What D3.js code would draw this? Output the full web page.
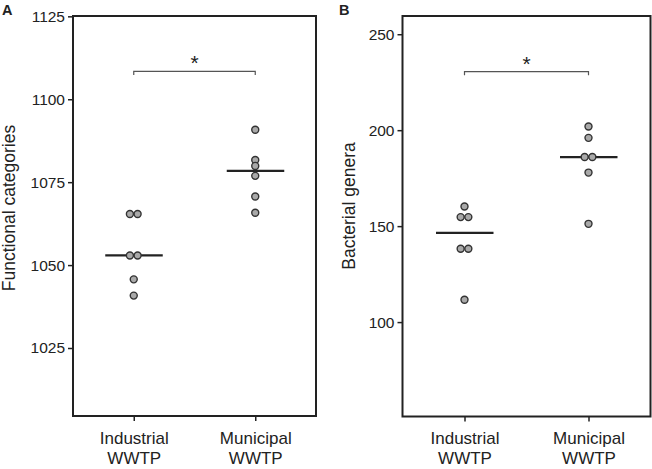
<!DOCTYPE html>
<html><head><meta charset="utf-8">
<script src="https://cdn.jsdelivr.net/npm/d3@7"></script>
<style>body{margin:0;background:#fff}svg{display:block}text{font-family:"Liberation Sans",Arial,sans-serif}</style>
</head><body>
<svg id="c" width="652" height="469"></svg>
<script>
const categories = ["Industrial WWTP", "Municipal WWTP"];
// Panel A: functional categories
const aIndustrial = [1065.4, 1065.4, 1052.9, 1052.9, 1045.7, 1040.8];
const aMunicipal = [1090.8, 1081.7, 1079.9, 1076.9, 1070.7, 1065.8];
const aTicks = [1025, 1050, 1075, 1100, 1125];
// Panel B: bacterial genera
const bIndustrial = [160.2, 154.7, 154.7, 138.2, 138.2, 111.6];
const bMunicipal = [201.9, 196.0, 186.0, 186.0, 177.9, 151.2];
const bTicks = [100, 150, 200, 250];

const svg = d3.select("#c");
const ink = "#222";
const FF = '"Liberation Sans",Arial,sans-serif';

function panel(opts){
  const {left, right, top, bottom, domain, ticks, ylabel, ylabelX, ylabelY, letter, letterX, series, bracketY} = opts;
  const g = svg.append("g");
  const y = d3.scaleLinear().domain(domain).range([bottom, top]);
  const x = d3.scalePoint().domain(categories).range([left, right]).padding(0.5);
  // y axis
  const ya = g.append("g").attr("transform", `translate(${left},0)`)
    .call(d3.axisLeft(y).tickValues(ticks).tickSize(5).tickPadding(3).tickFormat(d3.format("d")));
  ya.select(".domain").remove();
  ya.selectAll("line").attr("stroke", ink).attr("stroke-width", 1.5);
  ya.selectAll("text").attr("font-size", 15.5).attr("fill", ink).style("font-family", FF);
  // x axis
  const xa = g.append("g").attr("transform", `translate(0,${bottom})`)
    .call(d3.axisBottom(x).tickSize(5).tickFormat(""));
  xa.select(".domain").remove();
  xa.selectAll("line").attr("stroke", ink).attr("stroke-width", 1.5);
  xa.selectAll(".tick").each(function(d){
    const parts = d.split(" ");
    const t = d3.select(this).append("text").attr("fill", ink).attr("font-size", 17)
      .attr("text-anchor", "middle").style("font-family", FF);
    parts.forEach((p,i)=> t.append("tspan").attr("x", 0).attr("y", 27.5 + i*20).attr("dy", 0).text(p));
  });
  xa.selectAll("text tspan").attr("dy", null);
  // frame
  g.append("rect").attr("x", left).attr("y", top).attr("width", right-left).attr("height", bottom-top)
    .attr("fill", "none").attr("stroke", ink).attr("stroke-width", 2);
  // median lines
  series.forEach((s, i) => {
    const cx = x(categories[i]);
    const m = d3.median(s);
    g.append("line").attr("x1", cx-28.5).attr("x2", cx+29)
      .attr("y1", y(m)).attr("y2", y(m))
      .attr("stroke", ink).attr("stroke-width", 2.2);
  });
  // points (dodge duplicates)
  series.forEach((s, i) => {
    const cx = x(categories[i]);
    const counts = d3.rollup(s, v => v.length, d => d);
    const seen = new Map();
    s.forEach(v => {
      const n = counts.get(v);
      const k = seen.get(v) || 0; seen.set(v, k+1);
      const off = n > 1 ? (k - (n-1)/2) * 7.7 : 0;
      g.append("circle").attr("cx", cx + off).attr("cy", y(v)).attr("r", 3.5)
        .attr("fill", "#a9a9a9").attr("stroke", "#333").attr("stroke-width", 1.4);
    });
  });
  // bracket
  const x1 = x(categories[0]), x2 = x(categories[1]), by = y(bracketY);
  g.append("path").attr("d", `M${x1},${by+3.5}V${by}H${x2}V${by+3.5}`)
    .attr("fill", "none").attr("stroke", "#555").attr("stroke-width", 1.2);
  g.append("text").attr("x", (x1+x2)/2).attr("y", by - 1).attr("text-anchor", "middle")
    .attr("font-size", 21).attr("fill", ink).text("*");
  // y label
  g.append("text").attr("transform", `translate(${ylabelX},${ylabelY}) rotate(-90)`)
    .attr("text-anchor", "middle").attr("font-size", 17.5).attr("fill", ink).text(ylabel);
  // panel letter
  g.append("text").attr("x", letterX).attr("y", 15).attr("font-size", 14.5).attr("font-weight", "bold")
    .attr("fill", ink).text(letter);
}

panel({left: 73, right: 316, top: 16, bottom: 416, domain: [1004.5, 1125.1], ticks: aTicks,
  ylabel: "Functional categories", ylabelX: 15, ylabelY: 208, letter: "A", letterX: 2,
  series: [aIndustrial, aMunicipal], bracketY: 1108.4});
panel({left: 402.5, right: 650.5, top: 16, bottom: 416.5, domain: [50.8, 259.5], ticks: bTicks,
  ylabel: "Bacterial genera", ylabelX: 355, ylabelY: 206, letter: "B", letterX: 339,
  series: [bIndustrial, bMunicipal], bracketY: 230.5});
</script>
</body></html>
